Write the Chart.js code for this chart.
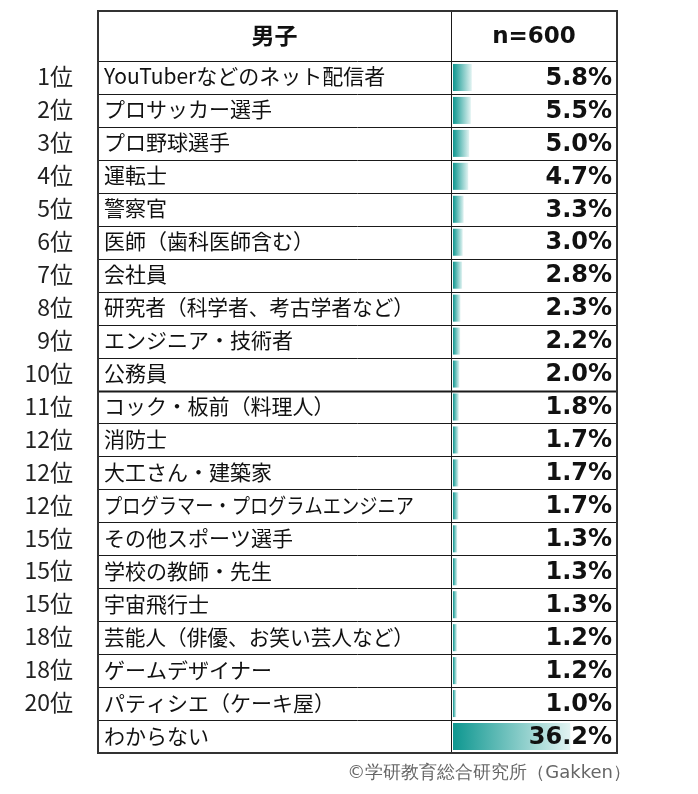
<!DOCTYPE html>
<html>
<head>
<meta charset="utf-8">
<script src="https://cdn.jsdelivr.net/npm/chart.js@4/dist/chart.umd.min.js"></script>
<style>
  body { margin: 0; background: #fff; }
</style>
</head>
<body>
<canvas id="myChart" width="698" height="794"></canvas>
<script>
const ranks = ['1位','2位','3位','4位','5位','6位','7位','8位','9位','10位','11位','12位','12位','12位','15位','15位','15位','18位','18位','20位','']
const jobs = ['YouTuberなどのネット配信者','プロサッカー選手','プロ野球選手','運転士','警察官','医師（歯科医師含む）','会社員','研究者（科学者、考古学者など）','エンジニア・技術者','公務員','コック・板前（料理人）','消防士','大工さん・建築家','プログラマー・プログラムエンジニア','その他スポーツ選手','学校の教師・先生','宇宙飛行士','芸能人（俳優、お笑い芸人など）','ゲームデザイナー','パティシエ（ケーキ屋）','わからない']
const values = [5.8, 5.5, 5.0, 4.7, 3.3, 3.0, 2.8, 2.3, 2.2, 2.0, 1.8, 1.7, 1.7, 1.7, 1.3, 1.3, 1.3, 1.2, 1.2, 1.0, 36.2]
const headers = ['男子', 'n=600']
const source = '©学研教育総合研究所（Gakken）'

const jpFont = '"Noto Sans CJK JP", "Noto Sans", sans-serif'
const numFont = '"DejaVu Sans", Verdana, sans-serif'

// table frame geometry
const tableLeft = 98
const tableTop = 11
const divider = 451
const tableRight = 617

const barGradient = (ctx) => {
    const chart = ctx.chart
    const area = chart.chartArea
    if (!area || ctx.type !== 'data') return '#0e9790'
    const x = chart.scales.x
    const x0 = x.getPixelForValue(0)
    const x1 = x.getPixelForValue(ctx.raw)
    const g = chart.ctx.createLinearGradient(x0, 0, Math.max(x1, x0 + 1), 0)
    g.addColorStop(0, '#0e9790')
    g.addColorStop(1, '#e2f3f2')
    return g
}

const tablePlugin = {
    id: 'table',
    beforeDatasetsDraw(chart) {
        const c = chart.ctx
        const area = chart.chartArea
        const n = jobs.length
        const rowH = (area.bottom - area.top) / n
        c.save()
        // inner horizontal lines
        c.strokeStyle = '#1a1a1a'
        for (let i = 0; i <= n; i++) {
            const y = Math.round(area.top + i * rowH) + 0.5
            c.lineWidth = (i === 10) ? 2 : 1
            c.beginPath()
            c.moveTo(tableLeft, y)
            c.lineTo(tableRight, y)
            c.stroke()
        }
        // vertical divider
        c.lineWidth = 1
        c.beginPath()
        c.moveTo(divider + 0.5, tableTop)
        c.lineTo(divider + 0.5, area.bottom)
        c.stroke()
        // outer border
        c.lineWidth = 2
        c.strokeStyle = '#333'
        c.strokeRect(tableLeft, tableTop, tableRight - tableLeft, area.bottom - tableTop)

        // header
        c.fillStyle = '#111'
        c.textBaseline = 'middle'
        c.textAlign = 'center'
        const hy = (tableTop + area.top) / 2
        c.font = 'bold 23px ' + jpFont
        c.fillText(headers[0], (tableLeft + divider) / 2, hy - 1)
        c.font = 'bold 23px ' + numFont
        c.fillText(headers[1], (divider + tableRight) / 2, hy + 1)

        // ranks and job names
        const ys = chart.scales.y
        for (let i = 0; i < n; i++) {
            const y = ys.getPixelForValue(i) - 1
            c.font = '23px ' + jpFont
            c.textAlign = 'right'
            c.fillStyle = '#222'
            c.fillText(ranks[i], 73, y)
            c.font = '21px ' + jpFont
            c.textAlign = 'left'
            c.fillStyle = '#111'
            c.fillText(jobs[i], 104, y, 310)
        }

        // source
        c.font = '18px ' + numFont
        c.fillStyle = '#666'
        c.textAlign = 'right'
        c.fillText(source, 631, area.bottom + 20)
        c.restore()
    },
    afterDatasetsDraw(chart) {
        const c = chart.ctx
        const ys = chart.scales.y
        c.save()
        c.font = 'bold 24px ' + numFont
        c.fillStyle = '#111'
        c.textAlign = 'right'
        c.textBaseline = 'middle'
        values.forEach((v, i) => {
            c.fillText(v.toFixed(1) + '%', 612, ys.getPixelForValue(i) + 1)
        })
        c.restore()
    }
}

const config = {
    type: 'bar',
    data: {
        labels: jobs,
        datasets: [{
            data: values,
            backgroundColor: barGradient,
            borderWidth: 0,
            barPercentage: 0.82,
            categoryPercentage: 1.0
        }]
    },
    options: {
        indexAxis: 'y',
        responsive: false,
        animation: false,
        layout: {
            padding: { left: 453, right: 83, top: 61, bottom: 41 }
        },
        scales: {
            x: { display: false, min: 0, max: 50 },
            y: { display: false }
        },
        plugins: {
            legend: { display: false },
            tooltip: { enabled: false }
        }
    },
    plugins: [tablePlugin]
}

const myChart = new Chart(document.getElementById('myChart'), config)
</script>
</body>
</html>
